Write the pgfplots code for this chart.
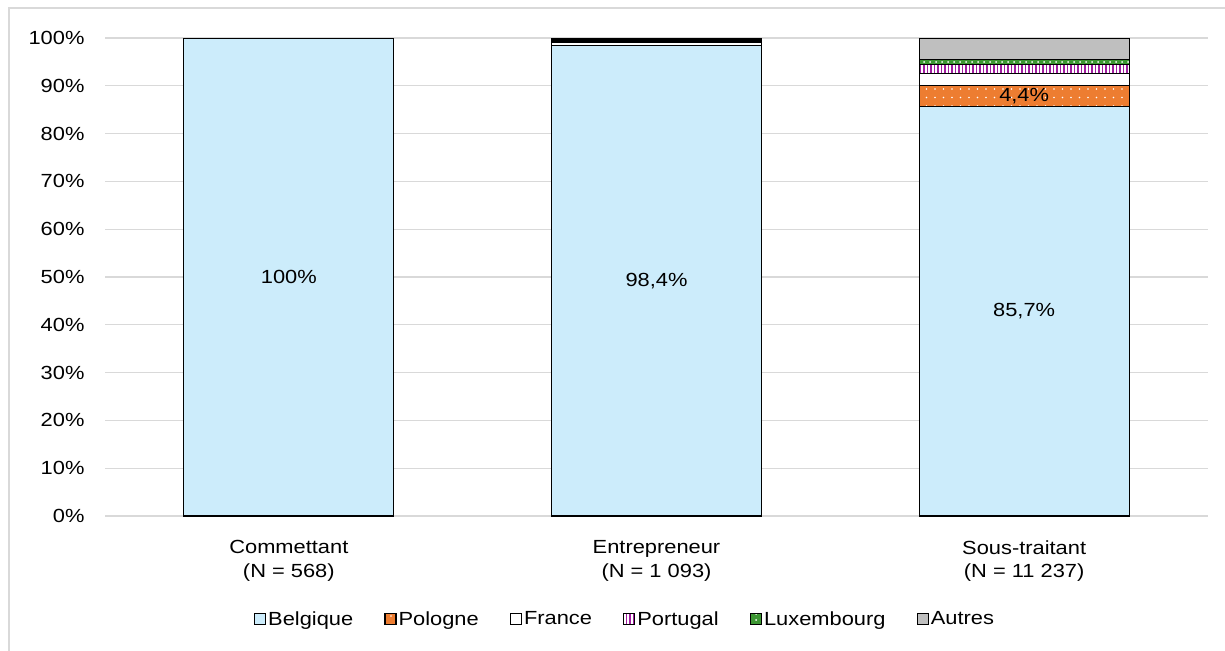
\documentclass[border=0pt]{standalone}
\usepackage{pgfplots}
\pgfplotsset{compat=1.18}
\usepackage{fontspec}
\setmainfont{Liberation Sans}[FakeStretch=1.15]
\usetikzlibrary{patterns.meta}

\definecolor{bel}{RGB}{204,236,251}
\definecolor{pol}{RGB}{237,125,49}
\definecolor{por}{RGB}{160,30,160}
\definecolor{lux}{RGB}{60,150,50}
\definecolor{fra}{RGB}{30,110,40}
\definecolor{aut}{RGB}{191,191,191}
\definecolor{gridc}{RGB}{217,217,217}

\newcommand{\lbl}{\fontsize{19}{23.5}\selectfont}

\pgfplotsset{
  base/.style={
    scale only axis, width=1103pt, height=478pt,
    at={(105pt,-516pt)}, anchor=south west,
    xmin=-0.5, xmax=2.5, ymin=0, ymax=100,
  }
}

\begin{document}
\begin{tikzpicture}[x=1pt,y=1pt]
\useasboundingbox (0,0) rectangle (1225,-650);
\draw[gridc, line width=1.5pt] (9,-8) rectangle (1240,-670);

\begin{axis}[base,
  ybar stacked, bar width=210pt,
  axis line style={draw=none},
  major tick length=0pt,
  ymajorgrids, grid style={gridc, line width=1.2pt},
  ytick={0,10,...,100},
  yticklabels={0\%,10\%,20\%,30\%,40\%,50\%,60\%,70\%,80\%,90\%,100\%},
  yticklabel style={font=\lbl, xshift=-17pt},
  xtick={0,1,2},
  xticklabels={{Commettant\\(N = 568)},{Entrepreneur\\(N = 1~093)},{Sous-traitant\\(N = 11~237)}},
  xticklabel style={font=\lbl, align=center, yshift=-21pt},
  legend columns=6,
  legend style={draw=none, font=\lbl, at={(axis description cs:0.4714,-0.2155)}, anchor=center,
    /tikz/every even column/.append style={column sep=29pt}},
  legend image code/.code={\draw[#1] (0pt,-5.5pt) rectangle (11pt,5.5pt);},
  every axis plot/.append style={draw=black, line width=1.3pt},
]
\addplot[fill=bel] coordinates {(0,100) (1,98.4) (2,85.7)};
\addplot[fill=pol, postaction={pattern={Dots[distance=8.5pt, radius=0.9pt]}, pattern color=white}]
  coordinates {(0,0) (1,0) (2,4.4)};
\addplot[fill=white, postaction={pattern={Dots[distance=17pt, radius=1pt]}, pattern color=fra}]
  coordinates {(0,0) (1,0.6) (2,2.5)};
\addplot[fill=white, postaction={pattern={Lines[angle=90, distance=3.5pt, line width=1.4pt]}, pattern color=por}]
  coordinates {(0,0) (1,0.3) (2,1.8)};
\addplot[fill=lux, postaction={pattern={Dots[distance=6pt, radius=1pt]}, pattern color=white}]
  coordinates {(0,0) (1,0.3) (2,1.1)};
\addplot[fill=aut] coordinates {(0,0) (1,0.4) (2,4.5)};
\legend{Belgique,Pologne,France,Portugal,Luxembourg,Autres}
\end{axis}

\begin{axis}[base, hide axis]
\addplot[draw=none, mark=none, nodes near coords, point meta=explicit symbolic,
  every node near coord/.append style={anchor=center, font=\lbl, text=black}]
  coordinates {(0,50)[100\%] (1,49.2)[98,4\%] (2,42.85)[85,7\%] (2,87.9)[4,4\%]};
\end{axis}
\end{tikzpicture}
\end{document}
